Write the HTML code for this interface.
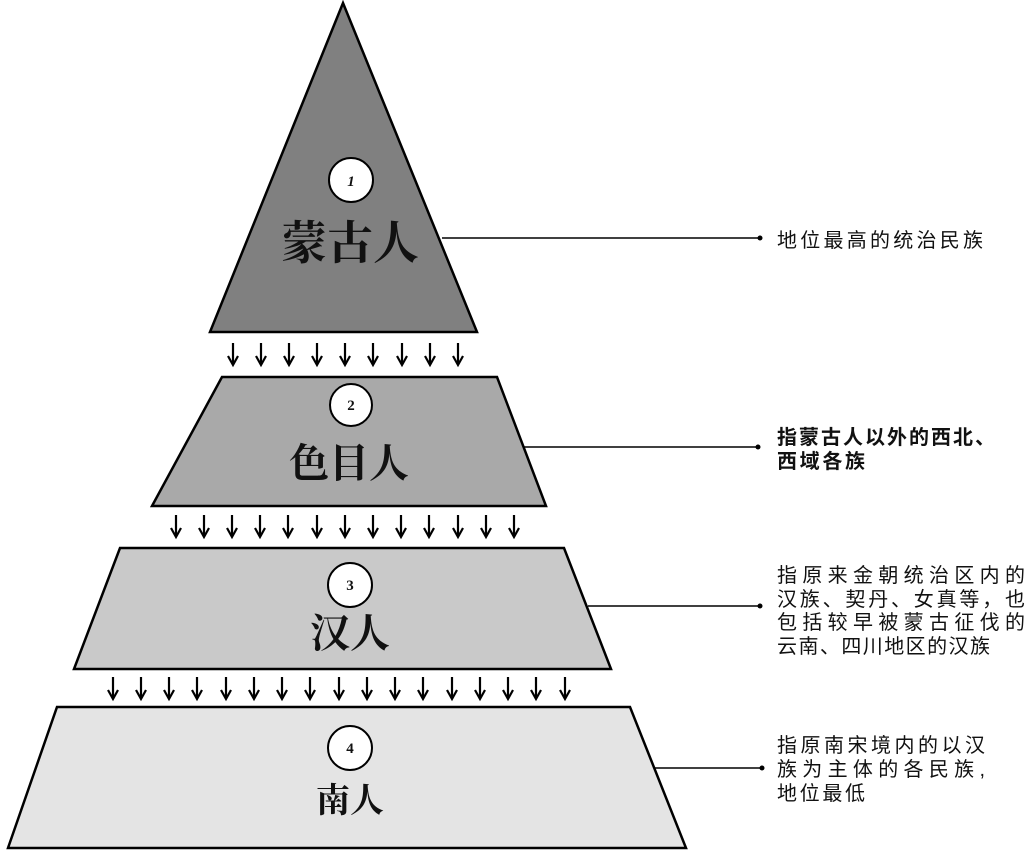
<!DOCTYPE html>
<html><head><meta charset="utf-8"><style>
html,body{margin:0;padding:0;background:#fff;}
svg{display:block;}
.t{font-family:"Liberation Serif","Noto Serif CJK SC",serif;font-weight:bold;fill:#111;text-anchor:middle;}
.n{font-family:"Liberation Serif",serif;font-weight:bold;font-size:15px;fill:#111;text-anchor:middle;}
.d{font-family:"Liberation Sans","Noto Sans CJK SC",sans-serif;font-size:20px;fill:#111;}
</style></head><body>
<svg width="1030" height="850" viewBox="0 0 1030 850" xmlns="http://www.w3.org/2000/svg">
<defs>
<g id="ar"><line x1="0" y1="0" x2="0" y2="20" stroke="#000" stroke-width="2.2"/><path d="M-5,13 L0,22 L5,13" fill="none" stroke="#000" stroke-width="2.2"/></g>
</defs>
<g stroke="#000" stroke-width="2.5">
<polygon points="343,3 477,332 210,332" fill="#808080"/>
<polygon points="222,377 497,377 546,506 152,506" fill="#a9a9a9"/>
<polygon points="120,548 564,548 611,669 74,669" fill="#c9c9c9"/>
<polygon points="57,707 630,707 686,848 8,848" fill="#e4e4e4"/>
</g>
<g stroke="#000" stroke-width="1.6">
<line x1="442" y1="238" x2="760" y2="238"/>
<line x1="523" y1="447" x2="758" y2="447"/>
<line x1="588" y1="606" x2="760" y2="606"/>
<line x1="654" y1="768" x2="762" y2="768"/>
</g>
<g fill="#000"><circle cx="760" cy="238" r="2.5"/><circle cx="758" cy="447" r="2.5"/><circle cx="760" cy="606" r="2.5"/><circle cx="762" cy="768" r="2.5"/></g>
<g stroke="#000" stroke-width="2" fill="#fff">
<circle cx="351" cy="180" r="22"/><circle cx="351" cy="405" r="21"/><circle cx="350" cy="585" r="22"/><circle cx="350" cy="748" r="22"/>
</g>
<text class="n" x="351" y="186" font-style="italic">1</text>
<text class="n" x="351" y="410">2</text>
<text class="n" x="350" y="590">3</text>
<text class="n" x="350" y="753">4</text>
<text class="t" x="350" y="259" font-size="46">蒙古人</text>
<text class="t" x="349" y="477" font-size="40">色目人</text>
<text class="t" x="350" y="647" font-size="40">汉人</text>
<text class="t" x="350" y="812" font-size="34">南人</text>
<g>
<use href="#ar" x="233" y="343"/><use href="#ar" x="261" y="343"/><use href="#ar" x="289" y="343"/><use href="#ar" x="317" y="343"/><use href="#ar" x="345" y="343"/><use href="#ar" x="373" y="343"/><use href="#ar" x="402" y="343"/><use href="#ar" x="430" y="343"/><use href="#ar" x="458" y="343"/>
</g>
<g>
<use href="#ar" x="176" y="515"/><use href="#ar" x="204" y="515"/><use href="#ar" x="232" y="515"/><use href="#ar" x="260" y="515"/><use href="#ar" x="288" y="515"/><use href="#ar" x="317" y="515"/><use href="#ar" x="345" y="515"/><use href="#ar" x="373" y="515"/><use href="#ar" x="401" y="515"/><use href="#ar" x="429" y="515"/><use href="#ar" x="458" y="515"/><use href="#ar" x="486" y="515"/><use href="#ar" x="514" y="515"/>
</g>
<g>
<use href="#ar" x="113" y="677"/><use href="#ar" x="141" y="677"/><use href="#ar" x="169" y="677"/><use href="#ar" x="197" y="677"/><use href="#ar" x="226" y="677"/><use href="#ar" x="254" y="677"/><use href="#ar" x="282" y="677"/><use href="#ar" x="310" y="677"/><use href="#ar" x="339" y="677"/><use href="#ar" x="367" y="677"/><use href="#ar" x="395" y="677"/><use href="#ar" x="423" y="677"/><use href="#ar" x="452" y="677"/><use href="#ar" x="480" y="677"/><use href="#ar" x="508" y="677"/><use href="#ar" x="536" y="677"/><use href="#ar" x="565" y="677"/>
</g>
<text class="d" x="777" y="247" textLength="206" lengthAdjust="spacing">地位最高的统治民族</text>
<text class="d" x="777" y="444" font-weight="bold" textLength="218" lengthAdjust="spacing">指蒙古人以外的西北、</text>
<text class="d" x="777" y="468" font-weight="bold" textLength="88" lengthAdjust="spacing">西域各族</text>
<text class="d" x="777" y="582" textLength="248" lengthAdjust="spacing">指原来金朝统治区内的</text>
<text class="d" x="777" y="606" textLength="248" lengthAdjust="spacing">汉族、契丹、女真等，也</text>
<text class="d" x="777" y="629" textLength="248" lengthAdjust="spacing">包括较早被蒙古征伐的</text>
<text class="d" x="777" y="653" textLength="213" lengthAdjust="spacing">云南、四川地区的汉族</text>
<text class="d" x="777" y="752" textLength="208" lengthAdjust="spacing">指原南宋境内的以汉</text>
<text class="d" x="777" y="776" textLength="208" lengthAdjust="spacing">族为主体的各民族,</text>
<text class="d" x="777" y="800" textLength="88" lengthAdjust="spacing">地位最低</text>
</svg>
</body></html>
